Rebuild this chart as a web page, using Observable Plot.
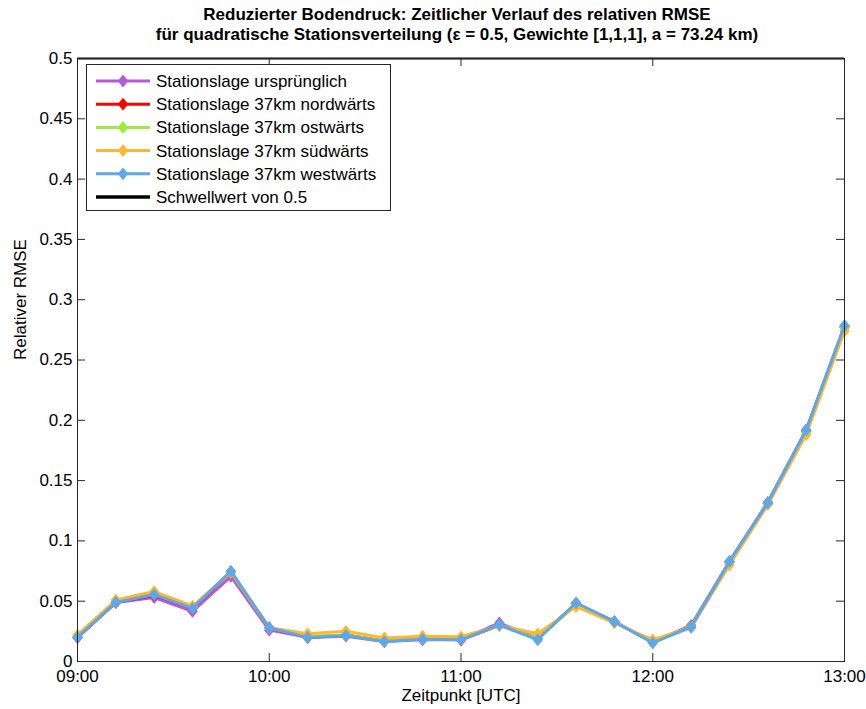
<!DOCTYPE html>
<html>
<head>
<meta charset="utf-8">
<script src="https://cdn.jsdelivr.net/npm/d3@7"></script>
<script src="https://cdn.jsdelivr.net/npm/@observablehq/plot@0.6"></script>
<style>
  body { margin: 0; background: #fff; font-family: "Liberation Sans", Arial, sans-serif; }
  #wrap { position: relative; width: 866px; height: 709px; }
  #title { height: 50px; box-sizing: border-box; padding: 5px 22px 0 70px; text-align: center;
           font-weight: bold; font-size: 17px; line-height: 20px; color: #000; }
  #chart svg { display: block; }
  #legend { position: absolute; left: 86px; top: 64px; width: 303px; height: 145px;
            border: 1px solid #262626; background: #fff; }
</style>
</head>
<body>
<div id="wrap">
  <div id="title">Reduzierter Bodendruck: Zeitlicher Verlauf des relativen RMSE<br>für quadratische Stationsverteilung (ε = 0.5, Gewichte [1,1,1], a = 73.24 km)</div>
  <div id="chart"></div>
  <div id="legend"></div>
</div>
<script>
// Zeitpunkte (UTC), alle 12 Minuten
const times = ["09:00","09:12","09:24","09:36","09:48","10:00","10:12","10:24","10:36","10:48",
               "11:00","11:12","11:24","11:36","11:48","12:00","12:12","12:24","12:36","12:48","13:00"];

// Relativer RMSE je Stationslage
const ursprunglich = [0.020,0.049,0.053,0.0415,0.0705,0.026,0.020,0.021,0.0165,0.018,0.018,0.032,0.019,0.048,0.033,0.016,0.030,0.083,0.132,0.192,0.278];
const nordwaerts   = [0.020,0.049,0.055,0.044,0.074,0.028,0.020,0.022,0.017,0.019,0.018,0.030,0.019,0.048,0.033,0.016,0.029,0.082,0.131,0.191,0.277];
const ostwaerts    = [0.021,0.050,0.056,0.045,0.074,0.028,0.021,0.022,0.017,0.019,0.019,0.030,0.019,0.047,0.033,0.016,0.029,0.082,0.131,0.190,0.277];
const suedwaerts   = [0.022,0.051,0.058,0.046,0.074,0.028,0.023,0.025,0.0195,0.021,0.0205,0.030,0.023,0.0455,0.032,0.018,0.028,0.080,0.130,0.188,0.274];
const westwaerts   = [0.020,0.049,0.0555,0.044,0.075,0.028,0.020,0.0215,0.0165,0.0185,0.018,0.0305,0.018,0.0487,0.033,0.0155,0.0285,0.083,0.1316,0.192,0.2786];

const seriesNames = ["Stationslage ursprünglich","Stationslage 37km nordwärts","Stationslage 37km ostwärts",
                     "Stationslage 37km südwärts","Stationslage 37km westwärts"];
const seriesValues = [ursprunglich, nordwaerts, ostwaerts, suedwaerts, westwaerts];
const seriesColors = ["#b65bd6","#ff0000","#9bee36","#ffb72e","#5ca8ea"];

const threshold = 0.5;
const thresholdName = "Schwellwert von 0.5";

const xTickLabels = ["09:00","10:00","11:00","12:00","13:00"];
const yTicks = [0,0.05,0.1,0.15,0.2,0.25,0.3,0.35,0.4,0.45,0.5];

const parseT = d3.utcParse("%H:%M");
const fmtT = d3.utcFormat("%H:%M");

const rows = seriesValues.flatMap((vals, s) =>
  vals.map((v, i) => ({series: seriesNames[s], t: parseT(times[i]), v})));

// Raute, etwas breiter als d3.symbolDiamond
const diamond = {
  draw(ctx, size) {
    const h = Math.sqrt(size) * 0.6, w = h * 0.82;
    ctx.moveTo(0, -h); ctx.lineTo(w, 0); ctx.lineTo(0, h); ctx.lineTo(-w, 0); ctx.closePath();
  }
};

const W = 866, H = 659;
const mL = 77, mR = 22, mT = 8, mB = 48;
const plotW = W - mL - mR, plotH = H - mT - mB;
const tickLen = 8;
const xTicks = xTickLabels.map(parseT);

const seriesMarks = seriesNames.flatMap((name, s) => {
  const data = rows.filter(d => d.series === name);
  return [
    Plot.line(data, {x: "t", y: "v", stroke: seriesColors[s], strokeWidth: 3}),
    Plot.dot(data, {x: "t", y: "v", fill: seriesColors[s], symbol: diamond, r: 6})
  ];
});

const chart = Plot.plot({
  width: W, height: H,
  marginLeft: mL, marginRight: mR, marginTop: mT, marginBottom: mB,
  style: {fontFamily: "'Liberation Sans', Arial, sans-serif", fontSize: "17px", color: "#000", background: "#fff"},
  x: {type: "utc", domain: [parseT(times[0]), parseT(times[times.length - 1])]},
  y: {domain: [0, 0.5]},
  marks: [
    ...seriesMarks,
    Plot.ruleY([threshold], {stroke: "#000", strokeWidth: 2}),
    Plot.frame({stroke: "#262626"}),
    // nach innen gerichtete Skalenstriche auf allen vier Seiten
    Plot.tickX(xTicks, {x: d => d, stroke: "#262626", insetTop: plotH - tickLen}),
    Plot.tickX(xTicks, {x: d => d, stroke: "#262626", insetBottom: plotH - tickLen}),
    Plot.tickY(yTicks, {y: d => d, stroke: "#262626", insetRight: plotW - tickLen}),
    Plot.tickY(yTicks, {y: d => d, stroke: "#262626", insetLeft: plotW - tickLen}),
    Plot.axisX({ticks: xTicks, tickSize: 0, tickPadding: 8, tickFormat: fmtT, label: null, fontSize: 17}),
    Plot.axisY({ticks: yTicks, tickSize: 0, tickPadding: 5, tickFormat: d => String(+d.toFixed(2)), label: null, fontSize: 17}),
    Plot.text(["Zeitpunkt [UTC]"], {frameAnchor: "bottom", dy: 39, fontSize: 17, fill: "#000"}),
    Plot.text(["Relativer RMSE"], {frameAnchor: "left", dx: -57, rotate: -90, fontSize: 17, fill: "#000"})
  ]
});
document.getElementById("chart").appendChild(chart);

// Legende
const legendItems = seriesNames.map((n, i) => ({name: n, color: seriesColors[i], marker: true}))
  .concat([{name: thresholdName, color: "#000", marker: false}]);
const lsvg = d3.select("#legend").append("svg").attr("width", 303).attr("height", 145)
  .style("display", "block");
const rowG = lsvg.selectAll("g").data(legendItems).join("g")
  .attr("transform", (d, i) => `translate(0, ${16 + i * 23.2})`);
rowG.append("line").attr("x1", 9).attr("x2", 63).attr("y1", 0).attr("y2", 0)
  .attr("stroke", d => d.color).attr("stroke-width", d => d.marker ? 3 : 3.5);
rowG.filter(d => d.marker).append("path").attr("transform", "translate(36,0)")
  .attr("d", d3.symbol(diamond, 113)).attr("fill", d => d.color);
rowG.append("text").attr("x", 69).attr("y", 0).attr("dy", "0.35em")
  .attr("font-size", 17).attr("font-family", "'Liberation Sans', Arial, sans-serif")
  .text(d => d.name);
</script>
</body>
</html>
